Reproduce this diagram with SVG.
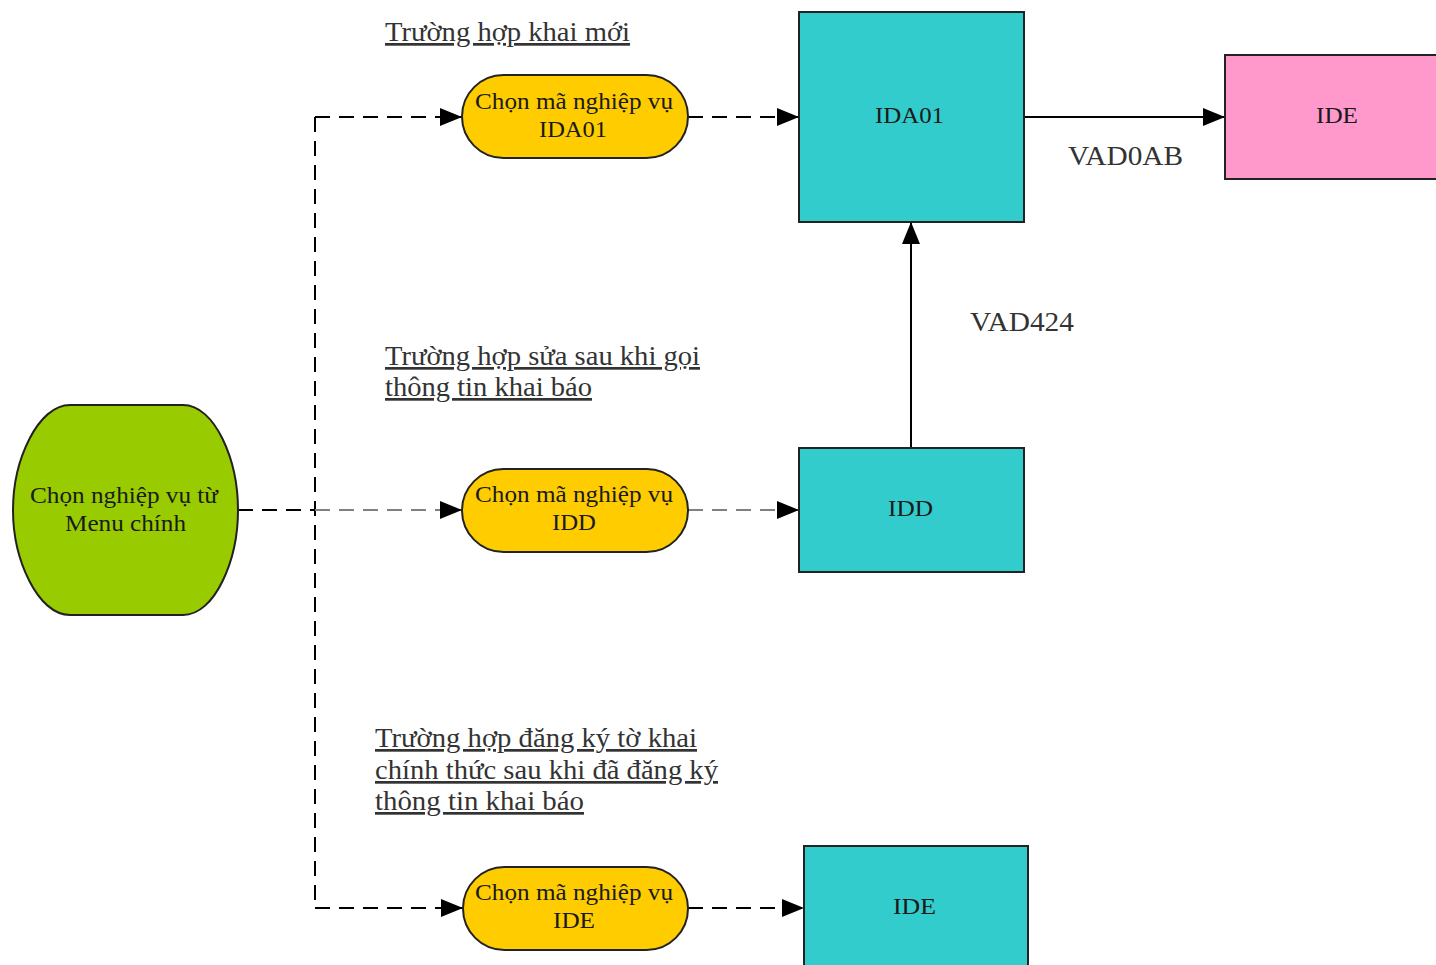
<svg xmlns="http://www.w3.org/2000/svg" width="1436" height="965" viewBox="0 0 1436 965">
<defs>
<marker id="arr" viewBox="0 0 22 18" refX="22" refY="9" markerWidth="22" markerHeight="18" markerUnits="userSpaceOnUse" orient="auto">
<path d="M0,0 L22,9 L0,18 Z" fill="#000"/>
</marker>
<style>
.t{font-family:"Liberation Serif","Times New Roman",serif;font-size:23px;fill:#1a1a1a}
.u{font-family:"Liberation Serif","Times New Roman",serif;font-size:27px;fill:#333;text-decoration:underline}
.l{font-family:"Liberation Serif","Times New Roman",serif;font-size:27px;fill:#333}
.box{fill:#33cccc;stroke:#222;stroke-width:2}
.ell{fill:#ffcc00;stroke:#222;stroke-width:2}
.d{fill:none;stroke:#000;stroke-width:2;stroke-dasharray:15 9}
.g{stroke:#808080}
.s{fill:none;stroke:#000;stroke-width:2}
</style>
</defs>
<rect width="1436" height="965" fill="#fff"/>

<g id="connectors">
<path class="d" d="M238,510 L315,510"/>
<path class="d" d="M315,117 L315,908"/>
<path class="d" d="M315,117 L462,117" marker-end="url(#arr)"/>
<path class="d g" d="M315,510 L462,510" marker-end="url(#arr)"/>
<path class="d" d="M315,908 L463,908" marker-end="url(#arr)"/>
<path class="d" d="M688,117 L799,117" marker-end="url(#arr)"/>
<path class="d g" d="M688,510 L799,510" marker-end="url(#arr)"/>
<path class="d" d="M688,908 L804,908" marker-end="url(#arr)"/>
<path class="s" d="M1024,117 L1225,117" marker-end="url(#arr)"/>
<path class="s" d="M911,448 L911,222" marker-end="url(#arr)"/>
</g>

<g id="menu">
<path d="M70,405 L183,405 C215,405 238,460 238,510 C238,560 215,615 183,615 L70,615 C38,615 13,560 13,510 C13,460 38,405 70,405 Z" fill="#99cc00" stroke="#222" stroke-width="2"/>
<text class="t" x="30" y="503" textLength="188" lengthAdjust="spacingAndGlyphs">Chọn nghiệp vụ từ</text>
<text class="t" x="65" y="531" textLength="121" lengthAdjust="spacingAndGlyphs">Menu chính</text>
</g>

<g id="sel-ida01">
<rect class="ell" x="462" y="75" width="226" height="83" rx="41.5"/>
<text class="t" x="475" y="109" textLength="198" lengthAdjust="spacingAndGlyphs">Chọn mã nghiệp vụ</text>
<text class="t" x="539" y="137" textLength="68" lengthAdjust="spacingAndGlyphs">IDA01</text>
</g>
<g id="sel-idd">
<rect class="ell" x="462" y="469" width="226" height="83" rx="41.5"/>
<text class="t" x="475" y="502" textLength="198" lengthAdjust="spacingAndGlyphs">Chọn mã nghiệp vụ</text>
<text class="t" x="552" y="530" textLength="44" lengthAdjust="spacingAndGlyphs">IDD</text>
</g>
<g id="sel-ide">
<rect class="ell" x="463" y="867" width="225" height="83" rx="41.5"/>
<text class="t" x="475" y="900" textLength="198" lengthAdjust="spacingAndGlyphs">Chọn mã nghiệp vụ</text>
<text class="t" x="553" y="928" textLength="42" lengthAdjust="spacingAndGlyphs">IDE</text>
</g>

<g id="ida01">
<rect class="box" x="799" y="12" width="225" height="210"/>
<text class="t" x="875" y="123" textLength="69" lengthAdjust="spacingAndGlyphs">IDA01</text>
</g>
<g id="idd">
<rect class="box" x="799" y="448" width="225" height="124"/>
<text class="t" x="888" y="516" textLength="45" lengthAdjust="spacingAndGlyphs">IDD</text>
</g>
<g id="ide-bottom">
<rect class="box" x="804" y="846" width="224" height="130"/>
<text class="t" x="893" y="914" textLength="43" lengthAdjust="spacingAndGlyphs">IDE</text>
</g>
<g id="ide-pink">
<rect x="1225" y="55" width="220" height="124" fill="#ff99cc" stroke="#222" stroke-width="2"/>
<text class="t" x="1316" y="123" textLength="42" lengthAdjust="spacingAndGlyphs">IDE</text>
</g>

<g id="labels">
<text class="l" x="1068" y="165" textLength="115" lengthAdjust="spacingAndGlyphs">VAD0AB</text>
<text class="l" x="970" y="331" textLength="104" lengthAdjust="spacingAndGlyphs">VAD424</text>
<text class="u" x="385" y="41" textLength="245" lengthAdjust="spacingAndGlyphs">Trường hợp khai mới</text>
<text class="u" x="385" y="365" textLength="315" lengthAdjust="spacingAndGlyphs">Trường hợp sửa sau khi gọi</text>
<text class="u" x="385" y="396" textLength="207" lengthAdjust="spacingAndGlyphs">thông tin khai báo</text>
<text class="u" x="375" y="747" textLength="322" lengthAdjust="spacingAndGlyphs">Trường hợp đăng ký tờ khai</text>
<text class="u" x="375" y="779" textLength="343" lengthAdjust="spacingAndGlyphs">chính thức sau khi đã đăng ký</text>
<text class="u" x="375" y="810" textLength="209" lengthAdjust="spacingAndGlyphs">thông tin khai báo</text>
</g>
</svg>
